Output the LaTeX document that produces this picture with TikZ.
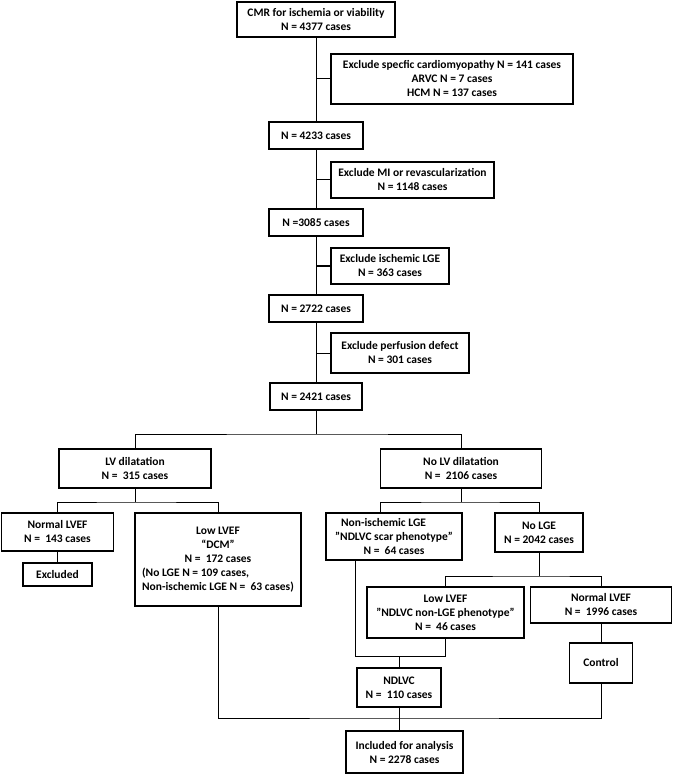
\documentclass[tikz,border=0pt]{standalone}
\usepackage{fontspec}
\setmainfont{Carlito}
\begin{document}
\begin{tikzpicture}[x=1pt,y=-1pt,
  box/.style={draw, line width=1.3pt, align=center, inner sep=1pt,
    font=\bfseries\fontsize{11.5}{14}\selectfont},
  link/.style={line width=1pt}]
\useasboundingbox (0,0) rectangle (675,775);
% main column
\node[box, minimum width=158pt, minimum height=35pt] (cmr) at (316,19.5) {CMR for ischemia or viability\\N = 4377 cases};
\node[box, minimum width=242pt, minimum height=50pt] (ex1) at (452,79) {Exclude specfic cardiomyopathy N = 141 cases\\ARVC N = 7 cases\\HCM N = 137 cases};
\node[box, minimum width=94pt, minimum height=27pt] (n4233) at (316,135.5) {N = 4233 cases};
\node[box, minimum width=163pt, minimum height=36pt] (ex2) at (412.5,180) {Exclude MI or revascularization\\N =  1148 cases};
\node[box, minimum width=94pt, minimum height=27pt] (n3085) at (316,222.5) {N =3085 cases};
\node[box, minimum width=118pt, minimum height=36pt] (ex3) at (390,266) {Exclude ischemic LGE\\N = 363 cases};
\node[box, minimum width=94pt, minimum height=27pt] (n2722) at (316,308.5) {N = 2722 cases};
\node[box, minimum width=138pt, minimum height=40pt] (ex4) at (400,353) {Exclude perfusion defect\\N = 301 cases};
\node[box, minimum width=92pt, minimum height=27pt] (n2421) at (316,396.5) {N = 2421 cases};
% second level
\node[box, minimum width=152pt, minimum height=39pt] (lvd) at (135,468.5) {LV dilatation\\N = \ 315 cases};
\node[box, minimum width=161pt, minimum height=39pt] (nolvd) at (461,468.5) {No LV dilatation\\N = \ 2106 cases};
% left branch
\node[box, minimum width=112pt, minimum height=38pt] (normlvef) at (57.5,532) {Normal LVEF\\N = \ 143 cases};
\node[box, minimum width=69pt, minimum height=23pt] (excl) at (57.5,574.5) {Excluded};
\node[box, minimum width=166pt, minimum height=93pt] (dcm) at (218,559.5) {Low LVEF\\“DCM”\\N = \ 172 cases\\\rlap{(No LGE N = 109 cases,}\phantom{Non-ischemic LGE N = \ 63 cases)}\\Non-ischemic LGE N = \ 63 cases)};
% right branch
\node[box, minimum width=136pt, minimum height=47pt] (nonisch) at (394,536.5) {\rlap{\hspace{6pt}Non-ischemic LGE}\phantom{"NDLVC scar phenotype"}\\"NDLVC scar phenotype"\\N = \ 64 cases};
\node[box, minimum width=88pt, minimum height=39pt] (nolge) at (539,532.5) {No LGE\\N = 2042 cases};
\node[box, minimum width=157pt, minimum height=51pt] (lowlvef2) at (445.5,612.5) {Low LVEF\\"NDLVC non-LGE phenotype"\\N = \ 46 cases};
\node[box, minimum width=141pt, minimum height=36pt] (normlvef2) at (601,605) {Normal LVEF\\N = \ 1996 cases};
\node[box, minimum width=63pt, minimum height=40pt] (control) at (601,663) {Control};
\node[box, minimum width=84pt, minimum height=39pt] (ndlvc) at (399,687.5) {NDLVC\\N = \ 110 cases};
\node[box, minimum width=117pt, minimum height=42pt] (incl) at (404.5,752) {Included for analysis\\N = 2278 cases};
% junction points
\coordinate (j1) at (316,434);
\coordinate (j2) at (135,502);
\coordinate (j3) at (461,502);
\coordinate (j3l) at (380,502);
\coordinate (j4) at (539,576);
\coordinate (k1) at (355,656);
\coordinate (k2) at (399,656);
\coordinate (m) at (399,718);
% main column links
\draw[link] (cmr) -- (n4233);
\draw[link] (n4233) -- (n3085);
\draw[link] (n3085) -- (n2722);
\draw[link] (n2722) -- (n2421);
\draw[link] (ex1.west) -- (ex1.west -| cmr.south);
\draw[link] (ex2.west) -- (ex2.west -| cmr.south);
\draw[link] (ex3.west) -- (ex3.west -| cmr.south);
\draw[link] (ex4.west) -- (ex4.west -| cmr.south);
% split into dilatation / no dilatation
\draw[link] (n2421.south) -- (j1);
\draw[link] (lvd.north) |- (j1) -| (nolvd.north);
% left split
\draw[link] (lvd.south) -- (j2);
\draw[link] (normlvef.north) |- (j2) -| (dcm.north);
\draw[link] (normlvef) -- (excl);
% right split
\draw[link] (nolvd.south) -- (j3);
\draw[link] (j3l |- nonisch.north) -- (j3l) -- (j3) -| (nolge.north);
\draw[link] (nolge.south) -- (j4);
\draw[link] (lowlvef2.north) |- (j4) -| (normlvef2.north);
\draw[link] (normlvef2) -- (control);
% NDLVC merge
\draw[link] (k1 |- nonisch.south) -- (k1) -| (lowlvef2.south);
\draw[link] (k2) -- (ndlvc.north);
% final merge
\draw[link] (dcm.south) |- (m) -| (control.south);
\draw[link] (ndlvc.south) -- (ndlvc.south |- incl.north);
\end{tikzpicture}
\end{document}
